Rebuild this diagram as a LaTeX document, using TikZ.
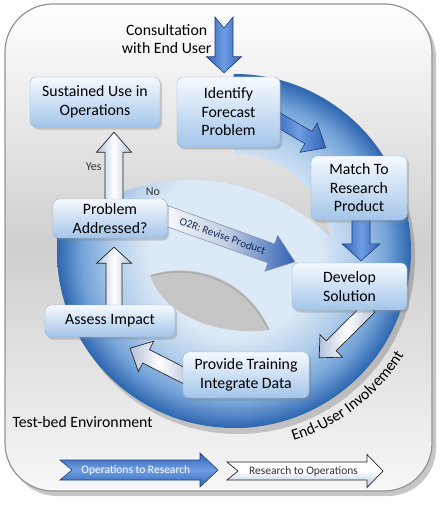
\documentclass[tikz,border=0pt]{standalone}
\usepackage{fontspec}
\setmainfont{Carlito}
\usetikzlibrary{positioning,calc,shadows,decorations.text}

\definecolor{arrowblue}{HTML}{3163B3}
\definecolor{arrowlight}{HTML}{6E9DE4}
\definecolor{arrowdark}{HTML}{1D3C78}
\definecolor{arrowgrey}{HTML}{B3C1DA}
\definecolor{boxtop}{HTML}{F6FAFE}
\definecolor{boxbottom}{HTML}{A3C5EA}
\definecolor{boxline}{HTML}{8EB3DC}
\definecolor{discA}{HTML}{DCE9F6}
\definecolor{discB}{HTML}{B2CEEB}
\definecolor{discC}{HTML}{75A4D9}
\definecolor{discD}{HTML}{2D66AF}

\pgfdeclareradialshading{discshade}{\pgfpoint{0bp}{0bp}}{color(0bp)=(discA); color(12bp)=(discA); color(17bp)=(discB); color(21.5bp)=(discC); color(25bp)=(discD); color(50bp)=(discD)}

\pgfdeclarelayer{bg}
\pgfdeclarelayer{arrows}
\pgfsetlayers{bg,arrows,main}

\tikzset{
  frame/.style={draw=gray!85, line width=1.2pt, rounded corners=48pt, top color=white, bottom color=gray!6, middle color=gray!38, drop shadow={shadow xshift=4pt, shadow yshift=-5pt, opacity=.45}},
  task/.style={draw=boxline, rounded corners=6pt, top color=boxtop, bottom color=boxbottom, align=center, inner sep=2pt, font=\fontsize{15.8}{18.5}\selectfont, drop shadow={shadow xshift=2pt, shadow yshift=-2.5pt, opacity=.35}},
  bluearr/.style={draw=arrowdark, line width=.6pt, left color=arrowblue, right color=arrowblue, middle color=arrowlight},
  whitearr/.style={draw=black!85, line width=.7pt, left color=arrowgrey, right color=arrowgrey, middle color=white},
  bluekey/.style={draw=arrowdark, line width=.6pt, top color=arrowblue, bottom color=arrowblue, middle color=arrowlight},
  whitekey/.style={draw=black!85, line width=.7pt, top color=white, bottom color=arrowgrey, middle color=white},
  o2rarr/.style={draw=arrowdark!60, line width=.5pt, left color=white, right color=arrowblue, middle color=arrowgrey!80},
  note/.style={font=\fontsize{15.8}{18}\selectfont, align=center},
  small/.style={font=\fontsize{12}{14}\selectfont, text=black!80}
}

\newcommand{\blockarrow}[7][]{%
  \coordinate (ba-h) at ($(#3)!#6!(#2)$);
  \path[#1] ($(#2)!#7!(#3)$) -- ($(#2)!#4!90:(#3)$) -- ($(ba-h)!#4!90:(#3)$) -- ($(ba-h)!#5!90:(#3)$) -- (#3) -- ($(ba-h)!#5!-90:(#3)$) -- ($(ba-h)!#4!-90:(#3)$) -- ($(#2)!#4!-90:(#3)$) -- cycle;
}

\begin{document}
\begin{tikzpicture}[x=1pt,y=1pt]
\useasboundingbox (0,0) rectangle (445,-508);

\begin{pgfonlayer}{bg}
\path[frame] (5,-4) rectangle (432,-491);

\coordinate (ctr) at (234,-251);
\coordinate (ctr2) at (190,-380);

\begin{scope}
\clip (233,10) -- (445,10) -- (445,-508) -- (0,-508) -- (0,-240) -- (233,-240) -- cycle;
\fill[black, opacity=.18, even odd rule] (238,-257) circle (177) (ctr) circle (177);
\end{scope}

\begin{scope}
\clip (ctr) circle (177);
\clip (ctr2) circle (200);
\shade[shading=discshade] (ctr) circle (177);
\end{scope}
\begin{scope}
\clip (234,-74) arc (90:-90:177) -- (234,-348) arc (-90:90:97) -- cycle;
\shade[shading=discshade] (ctr) circle (177);
\end{scope}

\fill[gray!45!white] (150,-275) .. controls (190,-262) and (245,-275) .. (270,-330) .. controls (225,-336) and (165,-320) .. (150,-275) -- cycle;
\draw[gray!65, line width=1.5pt] (151,-276) .. controls (190,-264) and (243,-277) .. (268,-329);
\end{pgfonlayer}

\node[task, minimum width=130pt, minimum height=50pt] (sustain) at (95,-102) {Sustained Use in\\Operations};
\node[task, minimum width=103pt, minimum height=70pt] (ident) at (228.5,-112) {Identify\\Forecast\\Problem};
\node[task, minimum width=96pt, minimum height=64pt] (match) at (359,-188) {Match To\\Research\\Product};
\node[task, minimum width=115pt, minimum height=47pt] (develop) at (349.5,-286.5) {Develop\\Solution};
\node[task, minimum width=126pt, minimum height=46pt] (provide) at (246,-375) {Provide Training\\Integrate Data};
\node[task, minimum width=130pt, minimum height=32pt] (assess) at (110,-321) {Assess Impact};
\node[task, minimum width=114pt, minimum height=39pt] (problem) at (110,-218.5) {Problem\\Addressed?};

\coordinate (cons-s) at (224,-17);
\coordinate (cons-t) at ([shift={(-4.5pt,4pt)}]ident.north);
\coordinate (im-s) at ([shift={(-5pt,-6pt)}]ident.east);
\coordinate (im-t) at ([shift={(15pt,8pt)}]match.north west);
\coordinate (md-s) at ([shift={(2pt,3pt)}]match.south);
\coordinate (md-t) at ([shift={(11.5pt,2pt)}]develop.north);
\coordinate (o2r-s) at ([shift={(-6pt,4.5pt)}]problem.east);
\coordinate (o2r-t) at ([shift={(3pt,1pt)}]develop.north west);
\coordinate (dp-s) at ([shift={(20.5pt,3pt)}]develop.south);
\coordinate (dp-t) at ([shift={(10pt,-6pt)}]provide.north east);
\coordinate (pa-s) at ([shift={(4pt,-2pt)}]provide.west);
\coordinate (pa-t) at ([shift={(20pt,-11pt)}]assess.south);
\coordinate (ap-s) at ([shift={(4pt,-3pt)}]assess.north);
\coordinate (ap-t) at ([shift={(4pt,-9pt)}]problem.south);
\coordinate (ps-s) at ([shift={(4pt,-3pt)}]problem.north);
\coordinate (ps-t) at ([shift={(19pt,-5pt)}]sustain.south);
\coordinate (or-s) at (60,-470);
\coordinate (or-t) at (218,-470);
\coordinate (ro-s) at (227,-471);
\coordinate (ro-t) at (383,-471);

\begin{pgfonlayer}{arrows}
\blockarrow[bluearr]{cons-s}{cons-t}{9pt}{17.5pt}{16pt}{11pt}
\blockarrow[bluearr]{im-s}{im-t}{7pt}{17pt}{20pt}{0pt}
\blockarrow[bluearr]{md-s}{md-t}{9pt}{19pt}{17pt}{0pt}
\blockarrow[o2rarr]{o2r-s}{o2r-t}{10pt}{19pt}{25pt}{0pt}
\blockarrow[whitearr]{dp-s}{dp-t}{7pt}{16pt}{17pt}{0pt}
\blockarrow[whitearr]{pa-s}{pa-t}{7.5pt}{17pt}{18pt}{0pt}
\blockarrow[whitearr]{ap-s}{ap-t}{8pt}{17.5pt}{16pt}{0pt}
\blockarrow[whitearr]{ps-s}{ps-t}{9pt}{17.5pt}{20pt}{0pt}
\blockarrow[bluekey]{or-s}{or-t}{10pt}{17pt}{18pt}{12pt}
\blockarrow[whitekey]{ro-s}{ro-t}{9pt}{16.5pt}{16pt}{11pt}
\end{pgfonlayer}

\coordinate (cons-m) at ($(cons-s)!.4!(cons-t)$);
\coordinate (ps-m) at ($(ps-s)!.5!(ps-t)$);
\node[note, left=9pt of cons-m] (consult) {Consultation\\with End User};
\node[small, left=9pt of ps-m] (yes) {Yes};
\node[small] (no) at (153,-192) {No};
\path (o2r-s) -- (o2r-t) node[pos=.46, sloped, font=\fontsize{11}{13}\selectfont, text=arrowdark!70!black] (o2r) {O2R: Revise Product};
\node[note, anchor=west] (testbed) at (9,-422) {Test-bed Environment};
\node[font=\fontsize{11.5}{13}\selectfont, text=white] (ops2res) at ($(or-s)!.48!(or-t)$) {Operations to Research};
\node[font=\fontsize{11.5}{13}\selectfont, text=black!80] (res2ops) at ($(ro-s)!.49!(ro-t)$) {Research to Operations};
\path[decorate, decoration={text along path, text align=center, text={|\fontsize{15.8}{18}\selectfont|End-User Involvement}}] ($(ctr)+(-80:199)$) arc (-80:-24:199);

\end{tikzpicture}
\end{document}
